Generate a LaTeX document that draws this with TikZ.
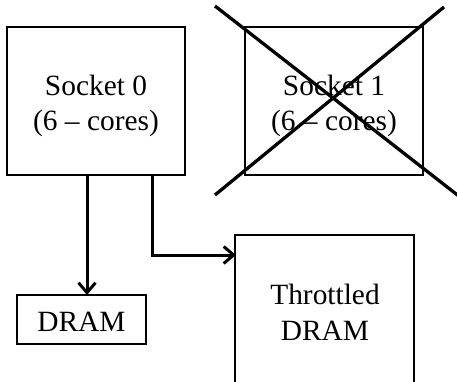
\documentclass[tikz,border=0pt]{standalone}
\usepackage{fontspec}
\setmainfont{Liberation Serif}
\usetikzlibrary{arrows.meta}
\begin{document}
\begin{tikzpicture}[x=1pt,y=-1pt,
  box/.style={draw, line width=1.1pt, inner sep=0pt},
  lbl/.style={font=\fontsize{29.4}{35}\selectfont, align=center, inner sep=0pt},
  conn/.style={line width=3pt, -{Straight Barb[length=10pt,width=17pt,line width=3pt]}},
  crossline/.style={line width=3.3pt}]
\useasboundingbox (0,0) rectangle (457,382);
\clip (0,0) rectangle (457,382);
% boxes
\draw[box] (7,27) rectangle (185,175);
\draw[box] (245,27) rectangle (423,175);
\draw[box] (17,295) rectangle (146,344);
\draw[box] (235,235) rectangle (414,400);
% labels
\node[lbl, anchor=base] (s0a) at (96,96) {Socket 0};
\node[lbl, anchor=base] (s0b) at (96,131) {(6 – cores)};
\node[lbl, anchor=base] (s1a) at (334,96) {Socket 1};
\node[lbl, anchor=base] (s1b) at (334,131) {(6 – cores)};
\node[lbl, anchor=base] (d) at (81.5,331) {DRAM};
\node[lbl, anchor=base] (ta) at (325,304) {Throttled};
\node[lbl, anchor=base] (tb) at (325,340) {DRAM};
% connector anchors
\coordinate (s0l) at (87,175);
\coordinate (dt) at (87,295);
\coordinate (s0r) at (152,175);
\coordinate (bend) at (152,255);
\coordinate (tl) at (236,255);
\draw[conn] (s0l) -- (dt);
\draw[conn] (s0r) -- (bend) -- (tl);
% cross
\coordinate (c1a) at (215,6);
\coordinate (c1b) at (460,197);
\coordinate (c2a) at (215,195);
\coordinate (c2b) at (444,7);
\draw[crossline] (c1a) -- (c1b);
\draw[crossline] (c2a) -- (c2b);
\end{tikzpicture}
\end{document}
